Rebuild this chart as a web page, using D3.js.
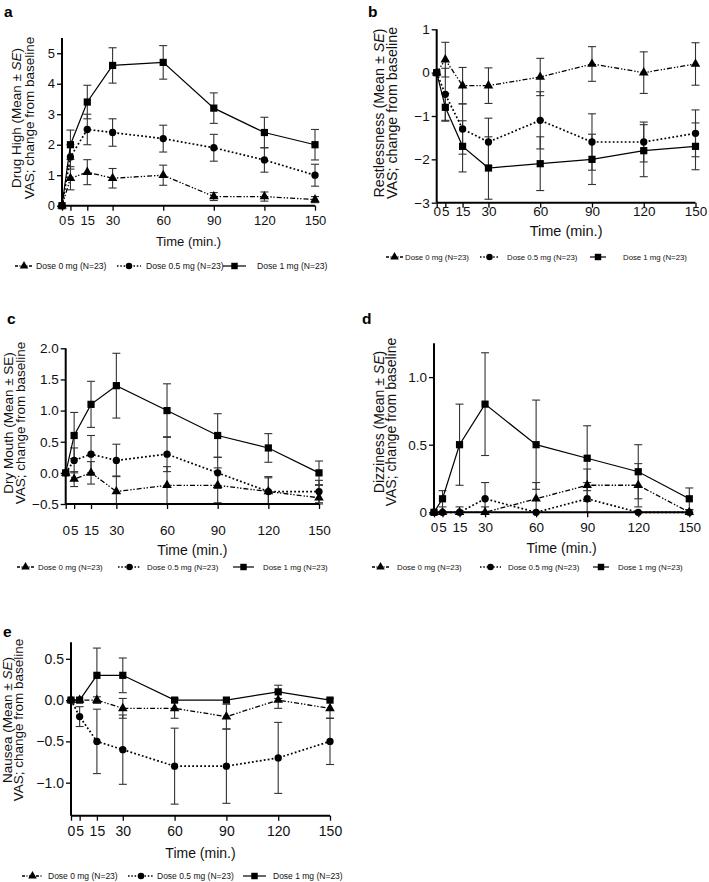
<!DOCTYPE html>
<html><head><meta charset="utf-8">
<script src="https://cdn.jsdelivr.net/npm/d3@7"></script>
<style>body{margin:0;background:#fff}svg{display:block;font-family:"Liberation Sans",Arial,Helvetica,sans-serif}</style>
</head><body><svg id="chart" width="709" height="882"></svg>
<script>
// ---------- data ----------
const times = [0, 5, 15, 30, 60, 90, 120, 150];
const doseLabels = ["Dose 0 mg (N=23)", "Dose 0.5 mg (N=23)", "Dose 1 mg (N=23)"];
const xTickLabels = ["0", "5", "15", "30", "60", "90", "120", "150"];

// a: Drug High
const highD0 = [0, 0.9, 1.1, 0.9, 1.0, 0.3, 0.3, 0.2];
const highD0se = [0, 0.38, 0.41, 0.32, 0.33, 0.13, 0.15, 0.1];
const highD05 = [0, 1.6, 2.5, 2.4, 2.2, 1.9, 1.5, 1.0];
const highD05se = [0, 0.4, 0.5, 0.45, 0.44, 0.44, 0.4, 0.36];
const highD1 = [0, 2.0, 3.4, 4.6, 4.7, 3.2, 2.4, 2.0];
const highD1se = [0, 0.48, 0.55, 0.58, 0.55, 0.5, 0.5, 0.5];
// b: Restlessness
const restD0 = [0, 0.3, -0.3, -0.3, -0.1, 0.2, 0.0, 0.2];
const restD0se = [0, 0.4, 0.42, 0.41, 0.43, 0.4, 0.48, 0.49];
const restD05 = [0, -0.5, -1.3, -1.6, -1.1, -1.6, -1.6, -1.4];
const restD05se = [0, 0.6, 0.58, 0.55, 0.66, 0.65, 0.46, 0.54];
const restD1 = [0, -0.8, -1.7, -2.2, -2.1, -2.0, -1.8, -1.7];
const restD1se = [0, 0.32, 0.59, 0.72, 0.62, 0.58, 0.6, 0.54];
// c: Dry Mouth
const dryD0 = [0, -0.1, 0.0, -0.3, -0.2, -0.2, -0.3, -0.4];
const dryD0se = [0, 0.12, 0.18, 0.25, 0.3, 0.28, 0.22, 0.2];
const dryD05 = [0, 0.2, 0.3, 0.2, 0.3, 0.0, -0.3, -0.3];
const dryD05se = [0, 0.2, 0.3, 0.26, 0.28, 0.25, 0.24, 0.18];
const dryD1 = [0, 0.6, 1.1, 1.4, 1.0, 0.6, 0.4, 0.0];
const dryD1se = [0, 0.37, 0.37, 0.52, 0.43, 0.35, 0.23, 0.19];
// d: Dizziness
const dizD0 = [0, 0, 0, 0, 0.1, 0.2, 0.2, 0];
const dizD0se = [0, 0, 0, 0.04, 0.12, 0.12, 0.16, 0.02];
const dizD05 = [0, 0, 0, 0.1, 0, 0.1, 0, 0];
const dizD05se = [0, 0, 0.04, 0.12, 0, 0.12, 0, 0];
const dizD1 = [0, 0.1, 0.5, 0.8, 0.5, 0.4, 0.3, 0.1];
const dizD1se = [0, 0.06, 0.3, 0.38, 0.33, 0.24, 0.2, 0.08];
// e: Nausea
const nauD0 = [0, 0, 0.0, -0.1, -0.1, -0.2, 0.0, -0.1];
const nauD0se = [0, 0, 0.04, 0.12, 0.12, 0.15, 0.1, 0.12];
const nauD05 = [0, -0.2, -0.5, -0.6, -0.8, -0.8, -0.7, -0.5];
const nauD05se = [0, 0.12, 0.39, 0.42, 0.46, 0.45, 0.43, 0.28];
const nauD1 = [0, 0, 0.3, 0.3, 0, 0, 0.1, 0];
const nauD1se = [0, 0, 0.33, 0.21, 0, 0, 0.08, 0];

// y ticks
const yTicksA = [0, 1, 2, 3, 4, 5];
const yTicksB = [-3, -2, -1, 0, 1];
const yTicksC = [-0.5, 0, 0.5, 1, 1.5, 2];
const yTicksD = [0, 0.5, 1.0];
const yTicksE = [-1, -0.5, 0, 0.5];

// ---------- layout / styles ----------
const minus = s => s.replace("-", "\u2212");
const panels = [
  {letter: "a", name: "Drug High", italic: true, means: [highD0, highD05, highD1], ses: [highD0se, highD05se, highD1se],
   domain: [0, 5.5], ticks: yTicksA, fmt: d => minus(String(d)),
   L: {x0: 62, x1: 315, yTop: 38, yBot: 205.7, tickY: 221, timeY: 241, legY: 266, letter: [4, 17], titleX: [16, 29.5], titleY: 118,
       tf: 13, timef: 13, titlef: 13.5, legf: 8.6, leg: [[15, 33, 36], [117, 141, 146], [223, 246, 257]]}},
  {letter: "b", name: "Restlessness", italic: true, means: [restD0, restD05, restD1], ses: [restD0se, restD05se, restD1se],
   domain: [-3, 1], ticks: yTicksB, fmt: d => minus(String(d)),
   L: {x0: 436.7, x1: 695.5, yTop: 29.3, yBot: 202.7, tickY: 211.5, timeY: 231, legY: 257, letter: [368, 17], titleX: [379, 391.5], titleY: 113,
       tf: 13.5, timef: 14.5, titlef: 14.3, legf: 7.8, leg: [[386, 403, 405], [480, 499, 507], [590, 606, 623]]}},
  {letter: "c", name: "Dry Mouth", italic: false, means: [dryD0, dryD05, dryD1], ses: [dryD0se, dryD05se, dryD1se],
   domain: [-0.5, 2.0], ticks: yTicksC, fmt: d => minus(d3.format(".1f")(d)),
   L: {x0: 65.7, x1: 319, yTop: 348.3, yBot: 504, tickY: 530, timeY: 550, legY: 567, letter: [7, 324], titleX: [7.5, 20.7], titleY: 423,
       tf: 13.5, timef: 14, titlef: 13.5, legf: 7.9, leg: [[17, 34, 38], [118, 141, 147], [233, 254, 263]]}},
  {letter: "d", name: "Dizziness", italic: true, means: [dizD0, dizD05, dizD1], ses: [dizD0se, dizD05se, dizD1se],
   domain: [0, 1.25], ticks: yTicksD, fmt: d => d === 0 ? "0" : d3.format(".1f")(d),
   L: {x0: 434, x1: 689.3, yTop: 343.3, yBot: 512.3, tickY: 528, timeY: 548, legY: 567, letter: [362, 324], titleX: [379, 391], titleY: 422,
       tf: 13.5, timef: 14, titlef: 14, legf: 7.9, leg: [[372, 389, 397], [480, 501, 508], [593, 609, 618]]}},
  {letter: "e", name: "Nausea", italic: true, means: [nauD0, nauD05, nauD1], ses: [nauD0se, nauD05se, nauD1se],
   domain: [-1.4, 0.7], ticks: yTicksE, fmt: d => minus(d3.format(".1f")(d)),
   L: {x0: 71, x1: 330, yTop: 642.3, yBot: 815.7, tickY: 831, timeY: 853, legY: 876, letter: [3, 637], titleX: [6.7, 18.5], titleY: 720,
       tf: 14, timef: 14, titlef: 13.5, legf: 8.5, leg: [[22, 43, 48], [128, 154, 157], [243, 266, 273]]}}
];

const seriesStyle = [
  {dash: "5,2,1.4,1.6,1.4,2", width: 1.3, symbol: d3.symbolTriangle, size: 40},
  {dash: "1.8,2.2", width: 1.7, symbol: d3.symbolCircle, size: 42},
  {dash: null, width: 1.2, symbol: d3.symbolSquare, size: 52}
];

const svg = d3.select("#chart");

panels.forEach((p, pi) => {
  const L = p.L;
  const x = d3.scaleLinear().domain([0, 150]).range([L.x0, L.x1]);
  const y = d3.scaleLinear().domain(p.domain).range([L.yBot, L.yTop]);
  const g = svg.append("g");

  // panel letter
  g.append("text").attr("x", L.letter[0]).attr("y", L.letter[1])
    .attr("font-size", 15.5).attr("font-weight", "bold").text(p.letter);

  // error bars
  const clamp = v => Math.max(p.domain[0], Math.min(p.domain[1], v));
  p.means.forEach((m, si) => {
    const se = p.ses[si];
    const eb = g.append("g").attr("stroke", "#333").attr("stroke-width", 1.1).attr("fill", "none");
    times.forEach((t, i) => {
      if (!se[i]) return;
      const lo = clamp(m[i] - se[i]), hi = clamp(m[i] + se[i]);
      const cx = x(t);
      eb.append("line").attr("x1", cx).attr("x2", cx).attr("y1", y(lo)).attr("y2", y(hi));
      eb.append("line").attr("x1", cx - 4).attr("x2", cx + 4).attr("y1", y(lo)).attr("y2", y(lo));
      eb.append("line").attr("x1", cx - 4).attr("x2", cx + 4).attr("y1", y(hi)).attr("y2", y(hi));
    });
  });

  // lines
  const line = d3.line().x((d, i) => x(times[i])).y(d => y(d));
  p.means.forEach((m, si) => {
    const st = seriesStyle[si];
    g.append("path").datum(m).attr("d", line).attr("fill", "none").attr("stroke", "#000")
      .attr("stroke-width", st.width).attr("stroke-dasharray", st.dash);
  });
  // markers
  p.means.forEach((m, si) => {
    const st = seriesStyle[si];
    g.append("g").selectAll("path").data(m).join("path")
      .attr("transform", (d, i) => `translate(${x(times[i])},${y(d)})`)
      .attr("d", d3.symbol().type(st.symbol).size(st.size)).attr("fill", "#000");
  });

  // axes
  const yAxis = g.append("g").attr("transform", `translate(${L.x0},0)`)
    .call(d3.axisLeft(y).tickValues(p.ticks).tickFormat(p.fmt).tickSize(5).tickPadding(2));
  yAxis.select(".domain").attr("stroke-width", 2).attr("d", `M-0,${L.yTop}V${L.yBot}`);
  yAxis.selectAll(".tick line").attr("stroke-width", 1.3);
  yAxis.selectAll("text").attr("font-size", L.tf).attr("font-family", null).attr("fill", "#111");

  const xAxis = g.append("g").attr("transform", `translate(0,${L.yBot})`)
    .call(d3.axisBottom(x).tickValues(times).tickFormat((d, i) => xTickLabels[i]).tickSize(5).tickPadding(0));
  xAxis.select(".domain").attr("stroke-width", 2).attr("d", `M${L.x0},0H${L.x1}`);
  xAxis.selectAll(".tick line").attr("stroke-width", 1.3);
  xAxis.selectAll("text").attr("font-size", L.tf).attr("font-family", null).attr("fill", "#111")
    .attr("dy", null).attr("y", L.tickY - L.yBot).attr("dominant-baseline", "central");

  // x title
  g.append("text").attr("x", (L.x0 + L.x1) / 2).attr("y", L.timeY).attr("text-anchor", "middle")
    .attr("dominant-baseline", "central").attr("font-size", L.timef).attr("fill", "#111").text("Time (min.)");

  // y title
  const t1 = g.append("text").attr("transform", `translate(${L.titleX[0]},${L.titleY}) rotate(-90)`)
    .attr("text-anchor", "middle").attr("dominant-baseline", "central").attr("font-size", L.titlef).attr("fill", "#111");
  t1.append("tspan").text(p.name + " (Mean \u00b1 ");
  t1.append("tspan").attr("font-style", p.italic ? "italic" : null).text("SE");
  t1.append("tspan").text(")");
  g.append("text").attr("transform", `translate(${L.titleX[1]},${L.titleY}) rotate(-90)`)
    .attr("text-anchor", "middle").attr("dominant-baseline", "central").attr("font-size", L.titlef).attr("fill", "#111")
    .text("VAS; change from baseline");

  // legend
  doseLabels.forEach((lab, si) => {
    const st = seriesStyle[si];
    const [s0, s1, tx] = L.leg[si];
    const lg = g.append("g");
    lg.append("line").attr("x1", s0).attr("x2", s1).attr("y1", L.legY).attr("y2", L.legY)
      .attr("stroke", "#000").attr("stroke-width", st.width)
      .attr("stroke-dasharray", si === 0 ? "3,1.5,1,1.5" : (si === 1 ? "1.5,1.8" : null));
    lg.append("path").attr("transform", `translate(${(s0 + s1) / 2},${L.legY})`)
      .attr("d", d3.symbol().type(st.symbol).size(st.size * 0.8)).attr("fill", "#000");
    lg.append("text").attr("x", tx).attr("y", L.legY).attr("dominant-baseline", "central")
      .attr("font-size", L.legf).attr("fill", "#111").text(lab);
  });
});
</script></body></html>
